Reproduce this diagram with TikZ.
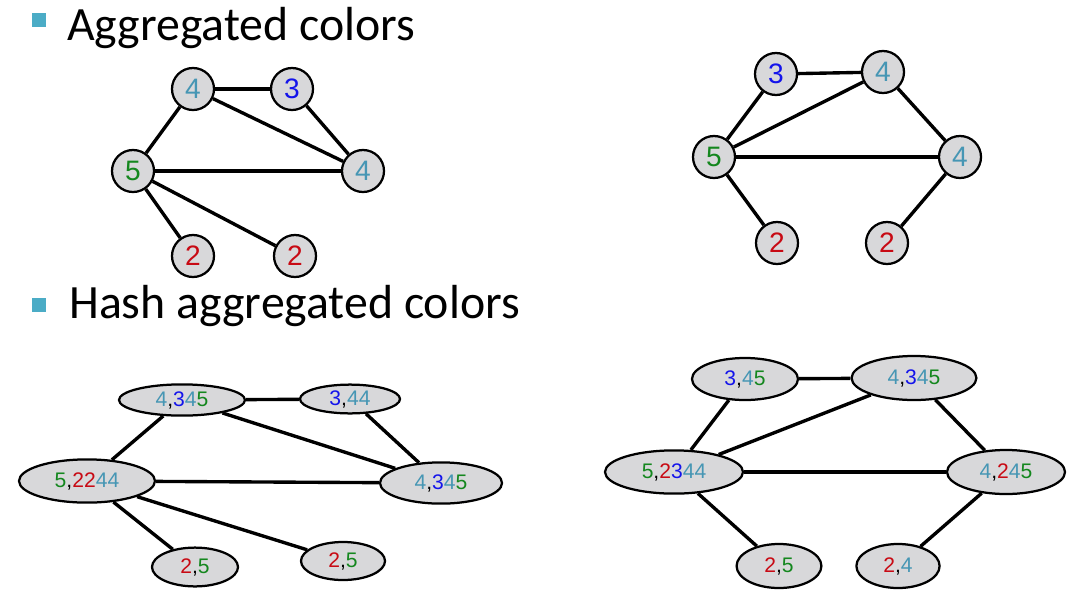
\documentclass[tikz,border=0pt]{standalone}
\usepackage{fontspec}
\setmainfont{Carlito}
\newfontfamily\numfont{Liberation Sans}
\usepackage{tikz}
\usetikzlibrary{shapes.geometric}

\definecolor{bulletblue}{RGB}{75,172,198}
\definecolor{cteal}{RGB}{70,150,180}
\definecolor{cblue}{RGB}{20,20,235}
\definecolor{cgreen}{RGB}{20,135,30}
\definecolor{cred}{RGB}{200,10,20}
\definecolor{nodegray}{RGB}{216,216,218}

\newcommand{\cT}[1]{\textcolor{cteal}{#1}}
\newcommand{\cB}[1]{\textcolor{cblue}{#1}}
\newcommand{\cG}[1]{\textcolor{cgreen}{#1}}
\newcommand{\cR}[1]{\textcolor{cred}{#1}}

\begin{document}
\begin{tikzpicture}[
  x=0.025cm, y=-0.025cm,
  vtx/.style={draw, line width=1.6pt, circle, fill=nodegray, minimum size=1.05cm, inner sep=0pt, font=\numfont\fontsize{20}{24}\selectfont},
  hvtx/.style={draw, line width=1.6pt, ellipse, fill=nodegray, minimum width=3.1cm, minimum height=0.85cm, inner sep=0pt, font=\numfont\fontsize{15}{18}\selectfont},
  lnk/.style={line width=2.4pt},
  head/.style={anchor=base west, inner sep=0pt, font=\fontsize{34}{40}\selectfont},
  bullet/.style={fill=bulletblue, draw=none}
]
\useasboundingbox (0,0) rectangle (1089,592);

% headings
\fill[bullet] (32,13) rectangle (46,27);
\node[head] (h1) at (67,40) {Aggregated colors};
\fill[bullet] (32,298) rectangle (46,312);
\node[head] (h2) at (69,318) {Hash aggregated colors};

% aggregated colors, left graph
\node[vtx] (a4) at (193,89) {\cT{4}};
\node[vtx] (a3) at (292,89) {\cB{3}};
\node[vtx] (a4r) at (363,171) {\cT{4}};
\node[vtx] (a5) at (133,171) {\cG{5}};
\node[vtx] (a2) at (193,256) {\cR{2}};
\node[vtx] (a2r) at (295,256) {\cR{2}};

\draw[lnk] (a4) -- (a3);
\draw[lnk] (a4) -- (a4r);
\draw[lnk] (a3) -- (a4r);
\draw[lnk] (a5) -- (a4);
\draw[lnk] (a5) -- (a4r);
\draw[lnk] (a5) -- (a2);
\draw[lnk] (a5) -- (a2r);

% aggregated colors, right graph
\node[vtx] (b3) at (776,74) {\cB{3}};
\node[vtx] (b4) at (883,72) {\cT{4}};
\node[vtx] (b5) at (714,157) {\cG{5}};
\node[vtx] (b4r) at (960,157) {\cT{4}};
\node[vtx] (b2) at (777,243) {\cR{2}};
\node[vtx] (b2r) at (887,243) {\cR{2}};

\draw[lnk] (b3) -- (b4);
\draw[lnk] (b3) -- (b5);
\draw[lnk] (b5) -- (b4);
\draw[lnk] (b5) -- (b4r);
\draw[lnk] (b4) -- (b4r);
\draw[lnk] (b5) -- (b2);
\draw[lnk] (b4r) -- (b2r);

% hash aggregated colors, left graph
\node[hvtx, minimum width=3.15cm, minimum height=0.78cm] (c4) at (182,400) {\cT{4},\cB{3}\cT{4}\cG{5}};
\node[hvtx, minimum width=2.5cm, minimum height=0.72cm] (c3) at (350,399) {\cB{3},\cT{44}};
\node[hvtx, minimum width=3.4cm, minimum height=1.08cm] (c5) at (87,481) {\cG{5},\cR{22}\cT{44}};
\node[hvtx, minimum width=3.05cm, minimum height=1.03cm] (c4r) at (441,483) {\cT{4},\cB{3}\cT{4}\cG{5}};
\node[hvtx, minimum width=2.15cm, minimum height=0.97cm] (c2) at (195,567) {\cR{2},\cG{5}};
\node[hvtx, minimum width=2.1cm, minimum height=0.95cm] (c2r) at (343,561) {\cR{2},\cG{5}};

\draw[lnk] (c4) -- (c3);
\draw[lnk] (c4) -- (c5);
\draw[lnk] (c4) -- (c4r);
\draw[lnk] (c3) -- (c4r);
\draw[lnk] (c5) -- (c4r);
\draw[lnk] (c5) -- (c2);
\draw[lnk] (c5) -- (c2r);

% hash aggregated colors, right graph
\node[hvtx, minimum width=2.65cm, minimum height=1.05cm] (d3) at (745,379) {\cB{3},\cT{4}\cG{5}};
\node[hvtx, minimum width=3.12cm, minimum height=1.1cm] (d4) at (914,378) {\cT{4},\cB{3}\cT{4}\cG{5}};
\node[hvtx, minimum width=3.45cm, minimum height=1.08cm] (d5) at (674,472) {\cG{5},\cR{2}\cB{3}\cT{44}};
\node[hvtx, minimum width=2.95cm, minimum height=1.1cm] (d4r) at (1006,472) {\cT{4},\cR{2}\cT{4}\cG{5}};
\node[hvtx, minimum width=2.12cm, minimum height=1.1cm] (d2) at (779,566) {\cR{2},\cG{5}};
\node[hvtx, minimum width=2.08cm, minimum height=1.1cm] (d2r) at (898,566) {\cR{2},\cT{4}};

\draw[lnk] (d3) -- (d4);
\draw[lnk] (d3) -- (d5);
\draw[lnk] (d4) -- (d5);
\draw[lnk] (d4) -- (d4r);
\draw[lnk] (d5) -- (d4r);
\draw[lnk] (d5) -- (d2);
\draw[lnk] (d4r) -- (d2r);
\end{tikzpicture}
\end{document}
